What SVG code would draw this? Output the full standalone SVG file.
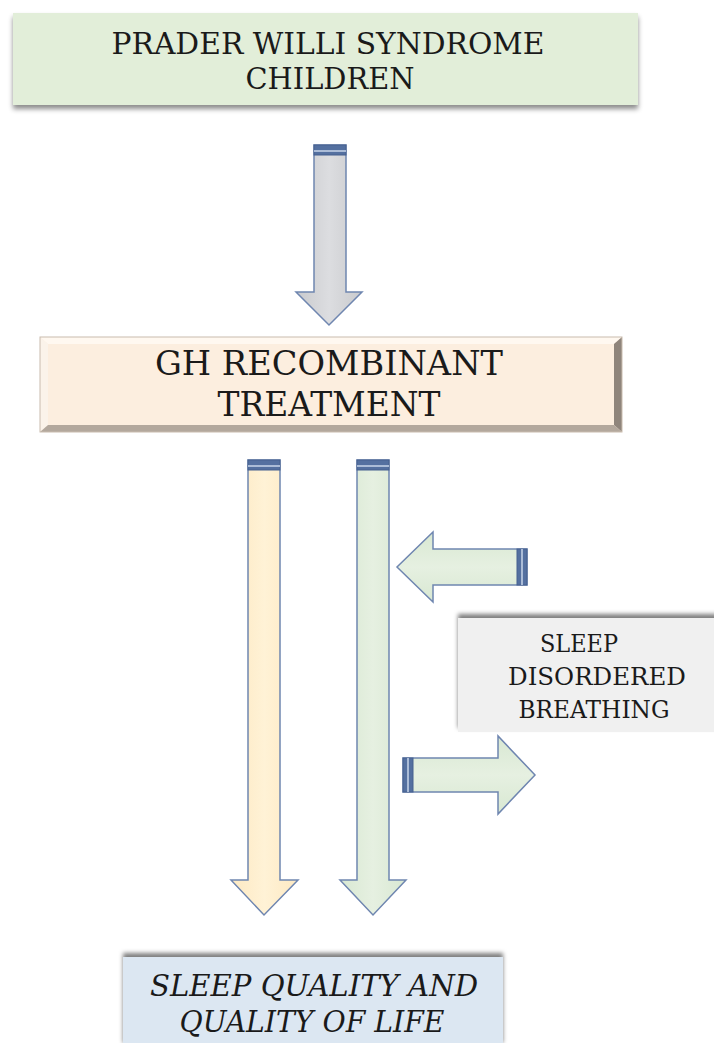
<svg xmlns="http://www.w3.org/2000/svg" width="714" height="1043" viewBox="0 0 714 1043">
<defs>
<style>
.t{font-family:"DejaVu Serif","Liberation Serif",serif;fill:#1a1a1a;text-anchor:middle}
.arrow{stroke:#6f86b0;stroke-width:1.5;stroke-linejoin:miter}
.cap{fill:#5470a0;stroke:#46608f;stroke-width:1}
.capl{stroke:#c9d6ea;stroke-width:1.5}
</style>
<filter id="shDown" x="-5%" y="-20%" width="110%" height="150%">
<feDropShadow dx="0" dy="4" stdDeviation="2.5" flood-color="#000" flood-opacity="0.45"/>
</filter>
<filter id="shUp" x="-5%" y="-20%" width="110%" height="140%">
<feDropShadow dx="0" dy="-4" stdDeviation="2" flood-color="#000" flood-opacity="0.5"/>
</filter>
<linearGradient id="gGray" x1="0" x2="1" y1="0" y2="0">
<stop offset="0" stop-color="#c9cacd"/><stop offset="0.5" stop-color="#dcdde0"/><stop offset="1" stop-color="#c9cacd"/>
</linearGradient>
<linearGradient id="gYel" x1="0" x2="1" y1="0" y2="0">
<stop offset="0" stop-color="#fde9c2"/><stop offset="0.5" stop-color="#fff2d6"/><stop offset="1" stop-color="#fde9c2"/>
</linearGradient>
<linearGradient id="gGrn" x1="0" x2="1" y1="0" y2="0">
<stop offset="0" stop-color="#d8e8d2"/><stop offset="0.5" stop-color="#e6f0e1"/><stop offset="1" stop-color="#d8e8d2"/>
</linearGradient>
<linearGradient id="gGrnV" x1="0" x2="0" y1="0" y2="1">
<stop offset="0" stop-color="#d8e8d2"/><stop offset="0.5" stop-color="#e6f0e1"/><stop offset="1" stop-color="#d8e8d2"/>
</linearGradient>
</defs>

<g id="node-pws">
<rect x="13" y="13" width="625" height="92" fill="#e2eed9" filter="url(#shDown)"/>
<text class="t" x="328" y="54" font-size="30" textLength="433" lengthAdjust="spacingAndGlyphs">PRADER WILLI SYNDROME</text>
<text class="t" x="330" y="89" font-size="30" textLength="169" lengthAdjust="spacingAndGlyphs">CHILDREN</text>
</g>

<g id="node-gh">
<rect x="40" y="337" width="582" height="95" fill="#fceedf"/>
<polygon points="40,337 622,337 614,344 48,344" fill="#fff8f0"/>
<polygon points="40,337 48,344 48,425 40,432" fill="#fbf3ea"/>
<polygon points="622,337 622,432 614,425 614,344" fill="#8f857c"/>
<polygon points="40,432 622,432 614,425 48,425" fill="#b3a89d"/>
<rect x="40" y="337" width="582" height="95" fill="none" stroke="#c9bcae" stroke-width="1"/>
<text class="t" x="329" y="375" font-size="33" textLength="348" lengthAdjust="spacingAndGlyphs">GH RECOMBINANT</text>
<text class="t" x="329" y="416" font-size="33" textLength="223" lengthAdjust="spacingAndGlyphs">TREATMENT</text>
</g>

<g id="node-sdb">
<rect x="458" y="618" width="260" height="114" fill="#f0f0f0" filter="url(#shUp)"/>
<text class="t" x="579" y="652" font-size="24" textLength="78" lengthAdjust="spacingAndGlyphs">SLEEP</text>
<text class="t" x="597" y="685" font-size="24" textLength="178" lengthAdjust="spacingAndGlyphs">DISORDERED</text>
<text class="t" x="594" y="718" font-size="24" textLength="151" lengthAdjust="spacingAndGlyphs">BREATHING</text>
</g>

<g id="node-sq">
<rect x="123" y="957" width="380" height="90" fill="#dce7f2" filter="url(#shUp)"/>
<text class="t" x="314" y="996" font-size="30" font-style="italic" textLength="328" lengthAdjust="spacingAndGlyphs">SLEEP QUALITY AND</text>
<text class="t" x="312" y="1032" font-size="30" font-style="italic" textLength="265" lengthAdjust="spacingAndGlyphs">QUALITY OF LIFE</text>
</g>

<g id="connectors">
<g id="c-pws-gh">
<polygon class="arrow" fill="url(#gGray)" points="314,145 346,145 346,292 362,292 329,325 296,292 314,292"/>
<rect class="cap" x="314" y="145" width="32" height="10"/>
<line class="capl" x1="314" y1="151" x2="346" y2="151"/>
</g>
<g id="c-gh-sq-1">
<polygon class="arrow" fill="url(#gYel)" points="248,460 280,460 280,880 298,880 264,915 231,880 248,880"/>
<rect class="cap" x="248" y="460" width="32" height="10"/>
<line class="capl" x1="248" y1="466" x2="280" y2="466"/>
</g>
<g id="c-gh-sq-2">
<polygon class="arrow" fill="url(#gGrn)" points="357,460 389,460 389,880 406,880 373,915 340,880 357,880"/>
<rect class="cap" x="357" y="460" width="32" height="10"/>
<line class="capl" x1="357" y1="466" x2="389" y2="466"/>
</g>
<g id="c-sdb-in">
<polygon class="arrow" fill="url(#gGrnV)" points="527,549 527,585 433,585 433,602 397,567 433,532 433,549"/>
<rect class="cap" x="517" y="549" width="10" height="36"/>
<line class="capl" x1="522" y1="549" x2="522" y2="585"/>
</g>
<g id="c-sdb-out">
<polygon class="arrow" fill="url(#gGrnV)" points="403,758 498,758 498,736 535,775 498,814 498,792 403,792"/>
<rect class="cap" x="403" y="758" width="10" height="34"/>
<line class="capl" x1="408" y1="758" x2="408" y2="792"/>
</g>
</g>
</svg>
